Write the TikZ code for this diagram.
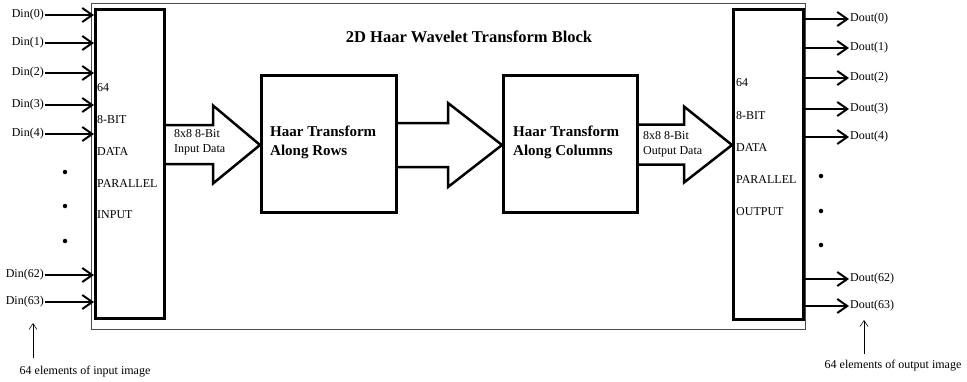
\documentclass[tikz,border=0pt]{standalone}
\usepackage{fontspec}
\setmainfont{Liberation Serif}
\usetikzlibrary{arrows.meta,calc}

\tikzset{
  frame/.style={draw=black!70, line width=0.9pt},
  bigbox/.style={draw, line width=3pt, inner sep=0pt},
  haarbox/.style={draw, line width=2.5pt, inner sep=0pt},
  barrow/.style={draw, line width=2.5pt, line join=miter},
  sig/.style={line width=2.3pt, -{Straight Barb[length=10pt,width=14pt,line width=2pt]}},
  note/.style={line width=0.6pt, -{Straight Barb[length=6pt,width=8pt,line width=0.6pt]}},
  lbl/.style={font=\fontsize{12}{14}\selectfont, inner sep=1pt},
  blbl/.style={font=\fontsize{12}{14}\selectfont, inner sep=0pt, anchor=west},
  haartxt/.style={font=\bfseries\fontsize{15}{19}\selectfont, align=left, inner sep=0pt, anchor=west},
  smalltxt/.style={font=\fontsize{12}{15}\selectfont, align=left, inner sep=0pt, anchor=west},
  dot/.style={circle, fill, inner sep=0pt, minimum size=4.5pt},
}

% open block arrow: start point, tip, x of head base, shaft half height, head half height
\newcommand\blockarrow[5]{%
  \draw[barrow] let \p1=(#1), \p2=(#2) in
    (\x1,\y1+#4pt) -- (#3pt,\y1+#4pt) -- (#3pt,\y1+#5pt) -- (\x2,\y2)
    -- (#3pt,\y1-#5pt) -- (#3pt,\y1-#4pt) -- (\x1,\y1-#4pt);}

\begin{document}
\begin{tikzpicture}[x=1pt, y=-1pt]
\useasboundingbox (0,0) rectangle (967,381);

% enclosing block
\draw[frame] (91,3) rectangle (805,329);

% title
\node[font=\bfseries\fontsize{16.5}{20}\selectfont] (title) at (469,37) {2D Haar Wavelet Transform Block};

% input / output register blocks
\node[bigbox, minimum width=69pt, minimum height=309pt, anchor=north west] (inblk) at (94,8) {};
\node[bigbox, minimum width=70pt, minimum height=310pt, anchor=north west] (outblk) at (732,8) {};

\foreach \t/\y [count=\i] in {64/88, 8-BIT/120, DATA/152, PARALLEL/184, INPUT/215}
  \node[blbl] (itxt\i) at (97,\y) {\t};
\foreach \t/\y [count=\i] in {64/83, 8-BIT/116, DATA/148, PARALLEL/180, OUTPUT/212}
  \node[blbl] (otxt\i) at (736,\y) {\t};

% transform blocks
\node[haarbox, minimum width=135pt, minimum height=137pt, anchor=north west] (rows) at (260,74) {};
\node[haarbox, minimum width=134pt, minimum height=137pt, anchor=north west] (cols) at (502,74) {};
\node[haartxt] (rowstxt) at (270,142.5) {Haar Transform\\Along Rows};
\node[haartxt] (colstxt) at (513,142) {Haar Transform\\Along Columns};

% block arrows between stages
\coordinate (a1s) at (inblk.east |- 0,144.5);
\coordinate (a1t) at (rows.west |- 0,145);
\blockarrow{a1s}{a1t}{213}{19.5}{39}
\coordinate (a2s) at (rows.east |- 0,145);
\coordinate (a2t) at (cols.west |- 0,145);
\blockarrow{a2s}{a2t}{448}{22}{42}
\coordinate (a3s) at (cols.east |- 0,144.5);
\coordinate (a3t) at (outblk.west |- 0,145);
\blockarrow{a3s}{a3t}{684}{20}{38}

\node[smalltxt] (intxt) at (174,142.5) {8x8 8-Bit\\Input Data};
\node[smalltxt] (outtxt) at (643,144) {8x8 8-Bit\\Output Data};

% input signals
\foreach \n/\y in {0/15, 1/43, 2/73, 3/105, 4/134, 62/275, 63/302} {
  \node[lbl, anchor=east] (din\n) at (45,\y) {Din(\n)};
  \draw[sig] (din\n.east) -- (inblk.west |- din\n.east);
}
% output signals
\foreach \n/\y in {0/19, 1/48, 2/78, 3/109, 4/137, 62/279, 63/306} {
  \node[lbl, anchor=west] (dout\n) at (849,\y) {Dout(\n)};
  \draw[sig] (outblk.east |- dout\n.west) -- (dout\n.west);
}

% ellipsis dots
\foreach \y [count=\i] in {172, 206, 241}
  \node[dot] (ldot\i) at (65,\y) {};
\foreach \y [count=\i] in {176, 211, 245}
  \node[dot] (rdot\i) at (821,\y) {};

% annotations
\node[lbl] (innote) at (85,372) {64 elements of input image};
\coordinate (inptr) at (33,323);
\draw[note] (inptr |- 0,358) -- (inptr);
\node[lbl] (outnote) at (893,366) {64 elements of output image};
\coordinate (outptr) at (864,320);
\draw[note] (outptr |- 0,354) -- (outptr);
\end{tikzpicture}
\end{document}
